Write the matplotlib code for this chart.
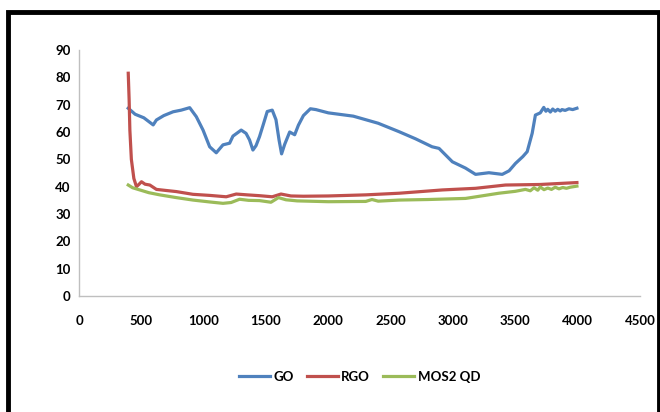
import matplotlib.pyplot as plt
from matplotlib.patches import Rectangle

# wavenumber / value pairs
go_x = [395, 450, 520, 595, 621, 680, 755, 820, 888, 941, 995, 1048, 1101, 1155, 1208, 1235,
        1301, 1340, 1368, 1395, 1420, 1448, 1480, 1510, 1550, 1580, 1605, 1625, 1650, 1690,
        1730, 1760, 1800, 1856, 1900, 2000, 2200, 2400, 2568, 2700, 2832, 2888, 2995, 3100,
        3181, 3288, 3395, 3450, 3501, 3560, 3595, 3635, 3661, 3700, 3728, 3745, 3760, 3781,
        3800, 3820, 3840, 3860, 3874, 3900, 3930, 3960, 3994]
go_y = [68.7, 66.5, 65.2, 62.6, 64.4, 66.0, 67.4, 68.0, 68.9, 65.6, 60.7, 54.6, 52.4, 55.3, 55.9,
        58.5, 60.7, 59.5, 57.1, 53.4, 55.0, 58.3, 63.0, 67.5, 68.0, 64.5, 57.0, 52.0, 55.5, 60.0,
        59.0, 62.5, 66.0, 68.5, 68.2, 67.0, 65.8, 63.2, 60.1, 57.5, 54.6, 54.0, 49.1, 46.8, 44.5,
        45.1, 44.5, 45.8, 48.5, 51.0, 52.8, 59.5, 66.2, 67.0, 69.0, 67.6, 68.3, 67.3, 68.4, 67.6,
        68.3, 67.7, 68.2, 67.9, 68.5, 68.2, 68.7]

rgo_x = [395, 402, 408, 420, 440, 461, 480, 501, 530, 568, 621, 700, 781, 914, 1050, 1181, 1261,
         1350, 1448, 1550, 1620, 1700, 1800, 2000, 2300, 2568, 2914, 3181, 3421, 3700, 3994]
rgo_y = [81.5, 72.0, 60.7, 50.0, 43.0, 40.0, 40.8, 41.8, 40.9, 40.6, 39.0, 38.6, 38.2, 37.2, 36.8,
         36.3, 37.3, 37.0, 36.7, 36.3, 37.3, 36.6, 36.5, 36.6, 37.0, 37.6, 38.8, 39.4, 40.6, 40.8,
         41.5]

mos2_x = [395, 430, 488, 560, 648, 780, 914, 1050, 1155, 1220, 1288, 1360, 1448, 1540, 1600,
          1660, 1750, 2000, 2300, 2350, 2400, 2568, 2800, 3101, 3368, 3500, 3581, 3620, 3650,
          3680, 3700, 3730, 3760, 3790, 3820, 3850, 3880, 3910, 3940, 3994]
mos2_y = [40.6, 39.6, 38.8, 37.8, 37.0, 36.0, 35.1, 34.4, 33.9, 34.2, 35.4, 35.0, 34.9, 34.3, 36.0,
          35.2, 34.8, 34.5, 34.6, 35.3, 34.7, 35.1, 35.3, 35.7, 37.6, 38.3, 39.0, 38.5, 39.6,
          38.7, 39.9, 38.9, 39.5, 39.0, 39.8, 39.2, 39.7, 39.4, 39.8, 40.2]

x_ticks = list(range(0, 4501, 500))
y_ticks = list(range(0, 91, 10))

plt.rcParams['font.family'] = ['Lato', 'DejaVu Sans']

fig = plt.figure(figsize=(6.6, 4.12), dpi=100)
ax = fig.add_axes([79/660, 1 - 296/412, (640 - 79)/660, (296 - 50)/412])

ax.plot(go_x, go_y, color='#4F81BD', lw=2.3, label='GO')
ax.plot(rgo_x, rgo_y, color='#C0504D', lw=2.3, label='RGO')
ax.plot(mos2_x, mos2_y, color='#9BBB59', lw=2.3, label='MOS2 QD')

ax.set_xlim(0, 4500)
ax.set_ylim(0, 90)
ax.set_xticks(x_ticks)
ax.set_yticks(y_ticks)
for lbl in ax.get_xticklabels() + ax.get_yticklabels():
    lbl.set_fontweight('bold')
    lbl.set_fontsize(9.5)
ax.tick_params(axis='both', length=0)
ax.tick_params(axis='x', pad=14)
ax.tick_params(axis='y', pad=6)
for side in ['top', 'right']:
    ax.spines[side].set_visible(False)
for side in ['left', 'bottom']:
    ax.spines[side].set_color('#BFBFBF')
    ax.spines[side].set_linewidth(1)

fig.legend(loc='center', bbox_to_anchor=(0.545, 0.085), ncol=3, frameon=False,
           prop={'weight': 'bold', 'size': 9.5}, handlelength=2.35, columnspacing=1.0,
           handletextpad=0.25)

# thick black border around the chart area
fig.patches.append(Rectangle((8/660, -0.2), (658.5 - 8)/660, 1.2 - 12/412, fill=False,
                             edgecolor='black', lw=3.5, transform=fig.transFigure))

fig.savefig('out.png', dpi=100)
